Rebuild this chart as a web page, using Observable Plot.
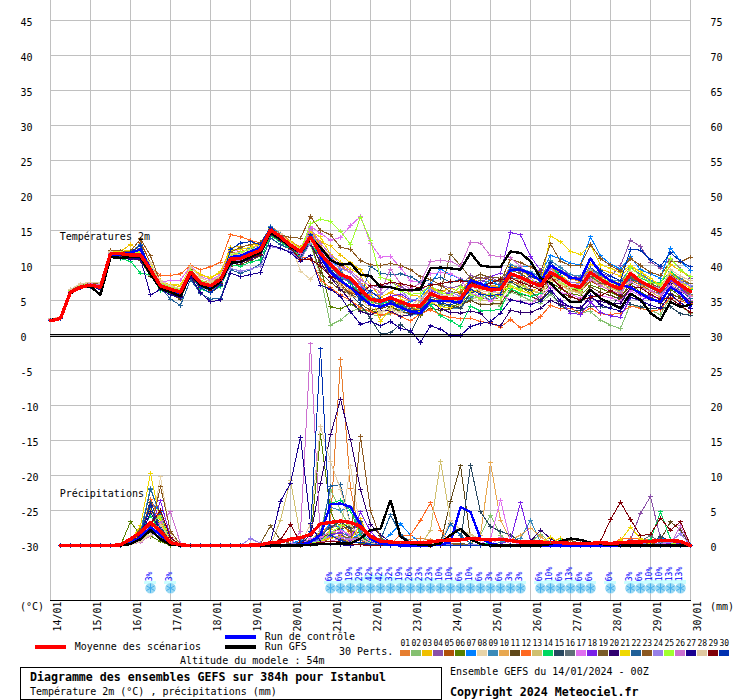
<!DOCTYPE html>
<html>
<head>
<meta charset="utf-8">
<script src="https://cdn.jsdelivr.net/npm/d3@7"></script>
<script src="https://cdn.jsdelivr.net/npm/@observablehq/plot@0.6"></script>
<style>
html,body{margin:0;padding:0;background:#fff}
#page{position:relative;width:740px;height:700px;overflow:hidden;font-family:"DejaVu Sans Mono",monospace;font-size:10px;color:#000}
#chart{position:absolute;left:0;top:0}
.t{position:absolute;white-space:pre;line-height:12px}
.b{font-weight:bold;font-size:11.6px}
.s{position:absolute}
</style>
</head>
<body>
<div id="page"><div id="chart"></div></div>
<script>
const memberColors=["#e67e30","#85c070","#f0c000","#8a50a8","#b05008","#588000","#0080ff","#e8d4a8","#3a8ab8","#e8a850","#604818","#ff6820","#d0c070","#00d860","#284860","#607078","#e070f0","#7a20e8","#7a5c28","#300070","#f0d800","#206098","#8b5820","#9880e8","#a0ff30","#cc70d0","#1a0090","#e0c8a0","#800008","#0030b0"];
const memberLabels=["01","02","03","04","05","06","07","08","09","10","11","12","13","14","15","16","17","18","19","20","21","22","23","24","25","26","27","28","29","30"];
const dayLabels=["14/01","15/01","16/01","17/01","18/01","19/01","20/01","21/01","22/01","23/01","24/01","25/01","26/01","27/01","28/01","29/01","30/01"];

// Temperatures 2m, one value every 6 h
const t01=[2.3,2.6,6.4,7.2,7.5,7.3,11.9,11.8,11.7,11.9, 10.0,7.6,7.0,6.6,9.5,7.9,7.5,8.5,11.8,12.0,12.4,13.0, 15.6,14.6,13.5,12.6,15.1,12.8,11.2,9.9,9.0,7.5, 6.2,5.5,6.1,5.6,4.9,5.0,6.9,6.4,6.0,6.3, 8.2,7.5,7.0,7.4,9.9,9.5,8.6,8.0,9.6,9.0,8.1,7.7, 9.6,8.4,7.9,7.4,9.8,8.6,7.9,7.0,9.1,8.2,7.4];
const t02=[2.2,2.5,6.0,6.8,7.0,6.8,11.4,11.3,11.0,10.8, 8.6,6.6,6.0,5.6,8.6,6.9,6.5,7.5,10.3,10.4,10.9,11.5, 14.6,13.8,12.5,11.4,13.0,8.6,1.5,2.2,3.4,3.9, 3.0,2.8,3.1,4.4,3.2,3.4,4.6,4.2,3.9,4.6, 5.2,5.6,4.9,4.2,6.2,5.7,5.0,4.6,5.9,4.4,3.4,3.3, 3.4,2.2,1.5,1.0,4.5,3.9,3.6,3.0,5.4,4.2,3.2];
const t03=[2.4,2.6,6.5,7.1,7.4,7.2,12.0,12.0,13.0,12.2, 10.2,7.9,7.2,7.0,9.8,8.7,8.2,9.0,12.6,12.7,12.9,13.1, 15.3,14.4,13.4,12.5,15.0,13.4,12.8,11.5,10.4,9.4, 7.2,5.5,6.1,7.3,5.8,5.6,6.7,6.2,6.8,6.1, 8.3,7.4,7.1,7.0,9.9,9.2,8.4,7.8,9.5,8.6,7.6,7.5, 10.2,9.5,9.0,8.5,9.8,9.1,7.8,7.5,10.1,9.3,8.2];
const t04=[2.2,2.4,6.1,6.9,7.1,6.9,11.6,11.5,11.4,11.2, 8.8,6.9,6.4,5.9,8.9,7.3,6.7,7.6,10.4,10.6,11.2,11.8, 14.9,14.1,12.7,11.7,13.6,11.0,9.2,8.3,7.5,5.6, 7.2,6.8,7.6,7.0,6.3,6.5,7.4,7.2,6.8,7.1, 8.6,8.1,8.4,7.5,9.7,9.1,8.9,8.5,9.9,9.3,8.7,8.2, 9.2,8.9,8.4,10.0,13.6,12.7,10.5,9.6,10.9,9.5,8.2];
const t05=[2.3,2.5,6.2,7.0,7.2,7.0,11.7,11.8,11.4,13.3, 10.4,7.2,6.6,6.1,9.2,7.6,7.0,8.2,11.2,11.3,11.8,12.5, 15.2,14.3,13.2,12.2,14.4,12.0,9.3,7.3,6.1,5.6, 4.7,5.1,4.6,4.4,3.7,3.8,5.2,4.9,5.2,5.0, 6.6,6.2,5.6,5.8,7.8,7.3,6.6,6.1,8.3,7.6,6.7,6.3, 7.8,7.0,6.8,6.4,7.9,7.2,6.5,5.9,7.6,6.9,5.7];
const t06=[2.2,2.4,6.1,6.9,7.1,6.8,11.5,11.5,11.2,11.3, 9.0,6.9,6.2,5.9,8.8,7.0,6.5,7.6,10.5,10.7,11.3,11.9, 14.8,13.8,12.6,11.8,14.5,9.9,4.1,3.8,4.5,3.6, 3.6,3.2,4.1,3.6,3.7,2.8,5.0,4.5,4.1,4.6, 6.0,5.3,5.2,5.4,7.6,6.9,6.1,5.5,7.6,6.7,6.0,5.7, 7.2,6.7,6.2,5.5,7.4,6.2,5.4,4.9,6.6,5.6,4.9];
const t07=[2.2,2.5,6.2,7.0,7.3,7.0,11.8,11.6,11.5,11.9, 9.6,7.3,6.8,6.3,9.3,7.8,7.3,8.2,11.4,11.7,12.1,12.4, 15.4,14.3,13.2,12.1,14.7,12.5,11.0,9.4,7.4,7.0, 5.8,4.6,5.1,4.2,4.9,5.5,7.3,9.5,8.7,8.1, 7.4,7.0,8.0,7.0,9.1,9.8,9.9,8.9,11.4,11.0,10.3,10.1, 14.1,11.4,10.2,9.5,11.3,9.4,8.8,8.2,12.5,10.6,9.3];
const t08=[2.4,2.6,6.6,7.4,7.6,7.6,12.0,11.9,11.6,11.8, 10.4,7.8,7.2,6.6,9.7,8.3,7.6,8.6,11.7,11.9,12.4,12.9, 15.1,14.6,13.1,9.2,8.0,9.8,9.0,7.8,7.0,5.1, 3.9,3.2,3.8,2.8,3.5,3.7,4.8,4.6,4.3,4.0, 5.9,4.6,4.4,4.4,6.9,6.4,5.9,5.5,7.9,7.3,6.2,6.4, 8.2,7.3,6.5,6.0,8.0,7.6,6.5,5.7,7.9,6.9,6.6];
const t09=[2.2,2.5,6.1,6.8,7.1,6.8,11.6,11.5,11.8,13.0, 9.0,6.8,6.1,5.3,8.9,7.1,6.3,7.5,11.9,12.5,12.5,12.8, 15.6,14.5,13.2,12.3,14.4,12.3,9.9,8.2,7.9,6.8, 5.5,5.2,4.5,3.7,2.9,3.1,4.4,4.3,3.8,3.9, 5.5,5.9,5.1,6.1,10.1,9.6,9.1,8.3,10.7,9.7,8.7,8.5, 9.6,8.6,8.0,7.7,9.6,8.8,7.9,6.9,8.9,8.2,7.0];
const t10=[2.3,2.6,6.3,7.1,7.3,7.1,11.7,11.6,11.7,11.4, 9.5,7.4,6.8,6.5,9.2,7.7,7.3,8.2,11.5,11.6,12.0,12.4, 15.0,14.2,13.0,12.2,14.9,12.6,9.6,7.6,6.4,5.5, 4.5,4.0,5.0,3.9,3.4,3.3,5.6,4.9,4.7,5.6, 6.4,6.1,5.8,6.0,8.2,7.7,6.4,6.0,8.0,7.2,6.5,6.2, 8.4,7.4,6.9,6.1,8.2,7.1,6.3,5.4,7.8,6.4,5.7];
const t11=[2.2,2.4,6.0,6.8,7.0,6.7,11.3,11.2,11.0,10.7, 8.5,6.7,5.9,5.2,8.5,6.7,6.1,7.1,9.9,10.2,10.7,11.4, 14.4,13.5,12.4,11.6,13.4,9.0,7.6,6.5,5.8,4.5, 3.6,3.9,4.2,3.3,3.2,3.0,3.9,3.6,3.8,4.3, 5.0,4.4,4.5,4.6,6.4,5.9,5.6,5.0,6.9,6.2,5.5,5.1, 6.9,6.2,5.7,5.2,6.7,5.9,5.4,4.6,6.0,5.3,4.5];
const t12=[2.3,2.5,6.3,7.0,7.3,7.1,11.9,11.8,11.5,11.5, 9.7,8.6,8.6,8.8,10.0,9.4,9.8,10.5,14.4,14.1,13.6,13.2, 14.7,13.8,12.7,11.2,11.0,8.0,6.8,5.8,5.0,4.0, 3.4,2.9,3.3,2.7,2.1,3.1,3.7,3.0,2.6,2.4, 2.5,2.0,1.8,1.2,2.3,1.1,1.7,2.7,4.3,3.8,3.9,3.2, 3.9,3.1,3.0,3.2,4.2,3.9,3.5,3.7,5.5,4.9,4.6];
const t13=[2.3,2.6,6.4,7.2,7.5,7.3,11.6,11.5,11.8,11.5, 9.6,7.5,7.0,6.5,9.3,7.8,7.4,8.3,10.9,11.4,12.1,12.4, 15.2,14.2,13.0,12.0,13.7,11.2,10.4,9.1,8.0,6.5, 5.3,4.2,4.4,3.9,3.7,4.9,5.9,5.2,5.4,4.3, 6.9,5.1,4.9,5.0,7.5,7.2,6.5,6.1,8.1,7.6,6.4,6.0, 8.7,7.6,6.7,6.3,8.6,7.8,6.9,6.2,8.3,7.4,6.9];
const t14=[2.2,2.5,6.1,6.9,7.1,6.8,11.2,11.0,10.6,8.9, 8.7,6.4,6.0,5.9,8.7,6.6,6.2,7.0,10.1,9.9,10.5,10.8, 14.2,13.4,12.3,11.4,13.0,11.4,10.2,8.6,7.4,5.9, 4.8,4.5,4.9,4.0,4.3,4.4,4.4,2.8,2.1,1.3, 4.2,3.5,3.6,3.7,6.7,6.0,5.6,6.0,10.0,8.5,7.3,7.4, 8.5,7.5,7.2,7.1,8.8,8.2,7.6,7.6,9.2,7.9,6.6];
const t15=[2.2,2.5,6.0,6.8,7.0,6.7,11.4,11.3,11.2,10.9, 8.8,6.9,6.3,5.7,9.0,7.2,6.6,7.7,11.3,11.1,11.8,12.1, 15.2,14.0,12.8,12.0,13.9,11.6,9.1,7.0,5.9,4.4, 2.4,0.2,0.4,1.6,0.4,3.2,5.0,4.9,4.2,3.9, 6.0,6.7,6.9,6.8,7.7,6.8,6.5,4.9,6.3,4.3,3.4,3.6, 4.2,4.1,3.9,5.9,4.5,4.1,3.8,4.0,4.1,3.1,2.9];
const t16=[2.3,2.5,6.2,7.0,7.2,6.9,11.5,11.4,11.3,11.0, 9.2,7.0,6.4,5.9,8.9,7.3,6.7,7.7,10.7,10.8,11.4,12.0, 14.8,14.0,12.8,12.0,14.2,11.9,10.0,8.9,7.9,6.0, 5.0,4.3,4.6,4.2,3.8,3.9,5.5,5.1,5.5,5.2, 7.4,7.9,7.6,7.8,8.3,8.0,7.0,7.0,8.7,8.0,7.1,6.9, 8.9,7.9,7.0,6.5,8.5,7.4,6.8,6.0,8.0,7.0,5.9];
const t17=[2.2,2.5,6.3,7.0,7.3,7.1,11.8,11.7,11.6,11.7, 9.8,7.6,7.9,7.9,9.9,8.5,7.9,8.7,12.0,12.3,12.6,12.9, 15.0,14.3,13.2,12.3,15.6,14.6,13.6,14.0,15.7,17.0, 13.2,11.2,11.3,9.7,7.8,7.6,8.8,9.0,8.8,8.1, 6.0,5.6,4.9,5.8,5.1,4.9,4.5,5.6,6.9,6.1,5.9,5.3, 6.5,5.7,5.4,4.9,6.4,5.7,5.1,4.8,6.9,5.9,5.0];
const t18=[2.3,2.5,6.2,7.0,7.2,7.0,11.8,11.7,11.6,11.6, 9.5,7.3,6.6,6.4,9.1,7.5,7.1,8.2,11.0,11.3,12.0,12.5, 15.1,14.1,13.0,12.0,14.2,11.8,10.0,8.6,7.6,6.8, 5.1,4.7,5.6,5.9,5.1,5.0,6.4,5.9,6.0,5.0, 6.9,7.5,8.4,8.9,14.7,14.4,11.3,9.3,6.5,5.0,3.2,3.0, 4.8,3.3,2.8,2.6,5.4,5.0,5.7,5.2,7.9,6.8,5.3];
const t19=[2.2,2.5,6.2,6.9,7.1,6.9,11.5,11.4,11.5,11.6, 9.3,7.2,6.6,6.1,9.0,7.4,6.9,7.9,10.8,10.9,11.5,12.1, 14.9,14.0,12.9,11.9,13.9,11.2,8.4,7.1,5.9,5.2, 4.3,4.0,4.8,4.5,3.9,4.3,5.7,6.4,11.6,10.0, 8.2,8.7,8.3,8.2,9.3,8.9,7.9,7.5,8.9,8.2,7.0,6.6, 8.4,7.5,7.1,6.7,8.3,7.5,7.4,6.8,8.6,7.9,7.4];
const t20=[2.2,2.4,6.0,6.8,7.0,6.7,11.3,11.2,11.0,10.8, 8.9,6.8,6.2,5.6,8.6,6.8,6.1,7.2,10.2,10.4,10.9,11.5, 14.5,13.6,12.5,11.6,13.1,10.5,8.3,6.6,5.0,3.4, 3.0,3.6,3.5,2.7,3.0,3.4,4.9,3.8,3.3,3.2, 3.5,3.2,1.7,1.4,3.6,3.3,3.3,3.9,5.0,4.4,4.1,4.0, 5.3,4.9,4.5,4.6,6.8,6.0,5.2,4.8,7.4,6.1,4.7];
const t21=[2.4,2.6,6.4,7.2,7.4,7.2,12.1,12.0,12.2,12.0, 10.0,7.5,7.3,7.2,9.8,8.6,8.3,9.1,12.2,12.3,12.6,13.0, 15.3,14.2,13.3,12.4,14.8,14.1,11.6,10.5,9.5,8.7, 5.8,2.0,3.8,5.2,4.3,3.5,4.8,4.1,4.0,6.0, 6.3,6.6,6.7,6.4,7.0,6.4,6.0,7.2,14.2,13.4,12.0,11.6, 13.0,10.1,9.6,9.0,10.0,9.1,8.2,7.1,8.9,7.8,6.7];
const t22=[2.2,2.4,6.0,6.8,7.0,6.7,11.4,11.4,11.9,12.4, 9.0,6.8,5.2,4.3,8.0,6.0,5.2,5.3,9.4,8.9,9.4,10.2, 13.9,13.0,12.3,11.0,13.8,12.0,10.0,9.0,7.7,5.2, 9.9,8.9,8.7,8.8,8.4,7.6,8.0,8.3,7.6,8.0, 7.7,7.3,7.4,7.3,8.5,8.6,7.4,7.0,8.6,8.0,6.9,7.1, 9.6,8.8,7.9,7.0,8.0,7.5,7.0,6.2,7.2,6.4,5.3];
const t23=[2.3,2.6,6.4,7.2,7.5,7.3,12.2,12.1,12.0,13.8, 11.4,7.5,6.8,6.4,9.4,7.8,7.2,8.4,11.9,12.6,13.0,13.3, 15.4,14.4,14.0,13.9,17.0,15.0,14.4,12.6,12.3,10.7, 10.1,10.0,10.3,10.0,9.4,8.4,8.0,7.2,6.3,6.0, 7.9,8.3,8.0,7.7,10.9,10.4,9.8,9.0,13.1,10.6,10.0,10.0, 13.0,11.0,10.0,9.2,11.0,10.0,9.0,8.6,10.6,10.5,11.2];
const t24=[2.3,2.5,6.2,7.1,7.3,7.1,11.7,11.6,11.5,11.7, 9.6,7.4,6.7,6.3,9.0,7.6,7.0,7.9,9.6,9.2,9.5,9.9, 12.7,12.4,12.0,10.8,13.2,12.4,10.5,9.6,9.0,7.3, 6.0,5.8,7.0,6.4,5.2,5.0,6.6,5.9,6.2,5.6, 7.3,6.9,6.3,6.4,8.6,8.5,7.8,7.3,9.1,8.3,7.6,7.4, 9.4,8.2,7.5,6.6,8.8,7.8,7.2,6.7,8.5,7.7,7.1];
const t25=[2.3,2.5,6.4,7.1,7.4,7.2,11.9,11.8,11.9,11.8, 9.9,7.5,6.9,6.5,9.3,7.9,7.2,8.2,11.5,11.9,12.3,12.6, 15.0,14.1,13.1,12.1,16.0,16.6,16.3,14.9,13.0,16.9, 13.6,8.3,7.9,6.4,5.9,6.0,7.2,6.1,5.8,7.0, 5.9,5.3,6.0,5.4,7.2,6.6,7.8,7.0,8.9,7.6,6.8,6.5, 9.2,8.2,7.7,7.0,9.7,8.5,7.6,7.2,11.0,9.4,8.4];
const t26=[2.3,2.6,6.3,7.0,7.4,7.2,11.6,11.6,11.3,11.2, 9.0,6.9,6.5,6.0,8.8,7.2,6.6,7.7,10.6,10.8,11.3,11.9, 14.7,13.9,12.7,11.7,15.3,13.2,11.5,10.2,9.2,8.0, 7.0,6.2,9.5,7.4,6.7,7.5,10.6,10.7,10.6,9.9, 13.3,13.2,11.4,11.3,11.1,9.9,8.3,6.9,9.6,8.2,7.3,7.2, 8.0,7.1,6.4,6.0,7.7,6.8,6.4,5.8,7.2,6.3,5.6];
const t27=[2.2,2.4,6.0,6.8,7.0,6.6,11.2,11.1,10.9,11.0, 5.8,6.6,5.8,5.4,8.4,6.1,4.8,5.1,8.9,8.4,8.7,9.0, 12.9,12.5,11.8,10.6,11.4,7.2,6.6,5.6,3.4,1.6, 2.0,1.4,2.0,1.0,0.7,-1.0,1.4,0.9,0.0,0.0, 1.3,1.7,2.0,3.2,5.1,4.8,4.4,4.9,6.5,4.9,4.1,3.8, 5.7,4.4,3.9,3.5,5.5,5.0,4.3,3.9,5.9,4.6,3.9];
const t28=[2.4,2.6,6.6,7.3,7.6,7.5,11.9,11.8,11.4,11.6, 10.1,7.7,7.1,6.7,9.9,8.2,7.7,8.5,11.3,11.6,12.2,12.7, 15.2,14.4,13.2,12.3,13.5,11.5,9.4,7.0,5.6,5.3, 4.6,3.4,3.9,3.3,4.2,5.4,6.2,5.7,5.7,5.4, 7.0,6.4,6.2,6.2,8.1,8.0,7.2,6.7,8.4,7.8,6.9,6.8, 8.8,7.9,7.4,6.8,9.1,8.0,7.1,6.6,9.4,8.5,7.8];
const t29=[2.2,2.5,6.1,6.9,7.1,6.9,11.5,11.4,11.2,11.2, 9.1,7.0,6.3,5.8,8.8,7.0,6.5,7.4,10.6,10.6,11.1,11.6, 14.7,13.7,12.5,10.8,10.9,9.9,8.4,7.9,6.9,6.0, 7.1,7.2,7.6,7.4,7.1,6.8,7.2,7.4,7.7,7.8, 7.6,7.0,7.5,8.0,8.2,7.6,7.1,6.5,8.4,6.9,5.6,5.0, 5.5,5.7,6.4,5.6,7.0,6.8,5.9,5.2,5.3,4.3,3.3];
const t30=[2.2,2.4,6.0,6.9,7.0,6.8,11.6,11.6,11.9,12.9, 9.5,7.0,6.4,6.0,8.9,6.8,6.1,7.3,12.3,13.2,13.4,13.0, 15.5,14.0,12.9,12.1,14.4,12.0,9.3,8.0,6.9,5.0, 6.4,5.2,5.0,4.1,3.6,3.6,5.2,4.6,4.4,4.8, 6.6,5.9,5.7,5.9,9.7,9.5,8.5,7.8,10.4,9.0,8.2,7.9, 10.9,9.3,8.5,7.8,12.3,12.2,10.8,9.9,11.8,10.6,9.8];
const tControl=[2.2,2.5,6.2,6.9,7.2,6.9,11.6,11.6,11.8,12.3, 9.5,7.0,6.4,6.0,9.0,7.3,6.8,7.7,11.2,11.4,12.0,12.6, 15.2,14.0,12.8,12.0,14.1,11.3,9.0,7.8,6.8,5.6, 4.4,4.1,4.6,4.0,3.4,3.2,4.9,4.9,4.9,4.7, 7.9,7.4,6.8,6.6,9.4,9.4,8.9,7.8,10.0,9.2,8.3,8.0, 11.0,8.9,7.8,7.2,6.9,6.0,5.2,4.8,6.9,6.0,4.2];
const tGfs=[2.2,2.5,6.0,6.9,7.0,5.8,11.2,11.1,11.2,11.2, 8.7,6.7,6.2,5.6,8.9,7.2,6.6,7.7,10.4,10.5,11.2,11.9, 14.7,13.8,12.7,11.9,13.9,12.6,10.8,10.1,10.3,8.7, 8.5,6.9,6.9,6.5,6.5,6.6,9.6,9.7,9.6,9.4, 11.8,10.0,9.8,9.8,12.0,11.8,10.6,8.2,7.5,6.0,4.8,4.8, 6.5,5.3,4.6,3.9,6.0,5.1,3.2,2.2,4.8,4.1,4.4];
const tMean=[2.1,2.45,6.2,6.9,7.2,6.9,11.7,11.7,11.5,11.5, 9.4,7.1,6.6,6.2,9.1,7.5,7.1,8.0,10.9,11.0,11.6,12.2, 15.1,14.1,12.9,12.0,14.1,11.7,10.1,8.7,8.2,6.6, 5.2,4.9,5.4,4.8,4.3,4.2,6.0,5.4,5.3,5.3, 7.2,6.9,6.5,6.6,8.8,8.3,7.6,7.1,9.0,8.2,7.2,6.9, 9.0,8.0,7.2,6.7,8.9,7.7,7.0,6.3,8.3,7.2,6.3];

// Precipitation (mm), one value every 6 h
const p01=[0,0,0,0,0,0,0,0, .3,1.2,2.2,1.5,.2,0, 0,0,0,0,0,0,0,0, 0,0,.2,.3,.6,1.5,3.2,26.6,8.2,1,.3, .2,.1,.4,.9,1,.8,.2,.1,0,0,0,0,0,0,0,0,0,0,0,0,0,0,0,.2,.3,.5,.4,.3,.2,.2,.1,0];
const p02=[0,0,0,0,0,0,0,0, .5,1.8,2.8,1.6,.1,0, 0,0,0,0,0,0,0,0, 0,0,.1,.3,.8,2,8,5,2.5,.8,.2, .1,.1,0,0,0,0,.1,.1,.2,.2,1.5,4.3,1.5,.2,.1,.5,1.6,.4,.3,.2,0,0,0,0,0,0,0,0,.2,.4,.2,0];
const p03=[0,0,0,0,0,0,0,0, .6,2.4,5,3,.3,0, 0,0,0,0,0,0,0,0, 0,0,0,.2,.4,.9,2.3,3.5,1.5,3.8,.6, 0,.2,.1,0,0,0,0,0,.1,.1,0,0,0,0,0,.2,.4,.5,1,.3,0,0,0,0,.5,.4,.2,.1,.1,.1,0,0];
const p04=[0,0,0,0,0,0,0,0, .2,1.1,1.9,3.2,.6,0, 0,0,0,0,0,0,0,0, 0,.1,.3,.4,.5,1.4,2.8,2.6,1.2,2.1,.5, 0,0,0,.2,0,0,0,.1,0,0,0,0,0,0,0,0,0,0,0,0,0,0,0,.1,.3,.8,4.6,7,1,.3,.2,0];
const p05=[0,0,0,0,0,0,0,0, .3,1,2.6,3.8,.9,.1, 0,0,0,0,0,0,0,0, 0,.1,.2,.2,.7,1.7,1.5,3,2,1.8,.4, .3,.2,.1,.1,0,0,0,0,0,0,0,.1,.1,.1,.2,0,0,0,0,0,0,0,0,.2,.4,.3,.2,.2,.4,.2,.1,0];
const p06=[0,0,0,0,0,0,0,0, 3.4,1.5,1.3,.6,0,0, 0,0,0,0,0,0,0,0, 0,0,.1,.1,.5,15.8,5,1.5,.5,.3,.2, .2,.1,0,0,0,0,0,.1,.2,0,0,0,0,.1,0,0,.2,.1,0,0,0,0,0,0,.2,.1,.6,.9,.4,.2,.1,0];
const p07=[0,0,0,0,0,0,0,0, .3,1.5,6.2,4.8,.5,0, 0,0,0,0,0,0,0,0, 0,0,.2,.8,.6,.7,3.4,2.5,1,1.6,.5, .4,1.6,3.1,1.5,.4,0,.1,3.1,1.4,.3,0,0,0,0,0,0,0,0,0,0,0,0,0,0,0,0,.3,.4,1.2,.5,.2,0];
const p08=[0,0,0,0,0,0,0,0, .2,.6,1.8,9.8,1.6,.1, 0,0,0,0,0,0,0,0, 0,0,0,.2,.3,.8,1.2,2,11.4,2,.3, 0,0,0,0,0,0,.2,.3,.2,.1,0,0,0,0,.1,.2,.1,0,0,0,0,0,0,0,.1,.3,.2,0,0,0,.3,0];
const p09=[0,0,0,0,0,0,0,0, .4,2,8.2,4,.4,0, 0,0,0,0,0,0,0,0, 0,.1,.1,.4,.6,1.3,5.5,5,5.5,2,.6, .2,.1,0,0,0,0,0,0,0,0,0,0,.5,.8,1,3.6,.5,.1,0,0,0,0,0,0,0,0,0,0,.2,.1,0,0];
const p10=[0,0,0,0,0,0,0,0, .3,.9,3,4.5,1,.1, 0,0,0,0,0,0,0,0, 0,0,.1,.1,.4,1,2,1.6,.9,1.1,.3, 0,0,0,0,0,0,.4,.2,0,.3,1.5,11.8,3.6,.8,1.5,2.5,1.3,.2,0,0,0,0,0,0,0,0,0,.1,0,0,0,0];
const p11=[0,0,0,0,0,0,0,0, .2,.8,2.5,3.5,.8,0, 0,0,0,0,0,0,0,0, 0,.1,.2,.3,.6,.9,1.8,2.4,2.7,2.5,.8, .1,0,0,0,0,0,.3,6.3,11.4,1,.2,0,0,0,0,0,0,0,0,0,0,0,0,0,0,0,.1,.2,.8,3.4,2.2,0];
const p12=[0,0,0,0,0,0,0,0, .4,1.4,6.6,3.5,.5,0, 0,0,0,0,0,0,0,0, 0,0,.1,.2,.2,.5,1.2,.9,.8,.7,.2, .3,.2,1.5,1.5,3.6,6.1,2.2,.3,0,0,0,0,0,0,.1,.2,0,0,0,0,0,0,0,.2,.9,1,.9,.8,.7,.5,.2,0];
const p13=[0,0,0,0,0,0,0,0, .1,.7,2,3.3,.5,0, 0,0,0,0,0,0,0,0, 0,3.6,9.3,1.2,.5,.7,1.3,1,.6,.9,.3, .1,0,0,0,0,2.2,12,3.6,2.2,1.6,.9,.2,0,0,0,0,0,0,0,0,0,0,0,0,0,0,.1,.2,.1,0,0,0];
const p14=[0,0,0,0,0,0,0,0, .5,2.1,4.2,2.1,.2,0, 0,0,0,0,0,0,0,0, 0,0,0,.1,.3,1,6,6.5,5,1.5,.4, 0,.1,0,0,0,0,0,0,0,.1,.2,.3,0,0,0,.2,.3,.5,.7,.2,0,0,0,0,0,0,0,.8,4.8,.9,.3,0];
const p15=[0,0,0,0,0,0,0,0, .2,1.4,6.2,2.7,.4,0, 0,0,0,0,0,0,0,0, 0,0,.1,.5,.8,1.4,2.6,3.4,2.4,3.4,.9, .5,.2,0,0,0,0,0,0,.3,11.5,4.8,2.7,2,1.5,.5,0,0,0,0,0,0,0,0,0,0,0,.1,.3,1.3,.6,.2,0];
const p16=[0,0,0,0,0,0,0,0, .3,1,2,1.5,.3,0, 0,0,0,0,0,0,0,0, 0,0,0,.2,.5,.8,1.6,1.9,1.2,.8,.3, .1,.1,0,0,0,0,0,.1,.1,.2,.2,0,0,0,.1,0,0,0,0,0,0,0,0,.1,.2,.4,.6,1.4,.5,.2,.1,0];
const p17=[0,0,0,0,0,0,0,0, .3,1.2,3,2.4,.4,0, 0,0,0,0,0,0,0,0, 0,0,.1,.2,1,1.2,1.9,2.2,1.5,2.8,.7, .2,0,0,0,0,0,0,0,0,0,.2,1,6.5,.6,.2,0,0,0,0,0,0,0,0,0,0,0,0,.1,.3,.2,.1,0];
const p18=[0,0,0,0,0,0,0,0, .4,1.3,2.5,6.4,1.2,0, 0,0,0,0,0,0,0,0, 0,0,.1,.3,.4,.9,1.5,1.8,.5,4.8,2, .4,.2,.1,0,0,0,0,0,0,0,0,0,.2,.8,6.1,.7,.2,0,0,0,0,0,0,0,0,0,0,.2,.1,.3,.2,0];
const p19=[0,0,0,0,0,0,0,0, .8,2.4,2.7,1.3,.2,0, 0,0,0,0,0,0,0,.3, 2.8,.8,.3,.1,.2,.4,1,1.4,1,1.2,.4, .1,0,0,.2,.3,0,0,.2,.3,.1,0,0,0,0,0,0,0,.1,.3,.5,.2,0,0,0,.2,.3,.2,.2,0,0,0,0];
const p20=[0,0,0,0,0,0,0,0, .2,1.1,5.7,1.7,.2,0, 0,0,0,0,0,0,0,0, 0,0,0,.2,1.5,8.9,15.8,20.9,15.1,8,3, 1.5,.5,.1,0,0,0,0,0,0,0,0,0,0,0,0,.6,2.2,1,.2,0,0,0,0,0,0,0,0,0,0,0,0,0];
const p21=[0,0,0,0,0,0,0,0, .7,2.8,10.3,3.4,.4,0, 0,0,0,0,0,0,0,0, 0,0,.1,.1,.3,.6,1,1.3,.8,3,.9, .3,.1,0,0,0,0,0,0,0,0,0,0,0,0,0,.1,.4,1.2,.3,0,0,0,0,0,.7,2.6,1,.3,.2,.1,0,0];
const p22=[0,0,0,0,0,0,0,0, .3,1.6,8,4.4,.5,0, 0,0,0,0,0,0,0,0, 0,0,.1,.2,.5,1,8.5,8.7,3,1,.4, .8,4.4,1.6,.5,.2,0,.5,3.2,1.5,.3,0,0,0,0,0,0,0,0,0,0,0,0,0,0,0,.2,.3,.1,0,0,0,0];
const p23=[0,0,0,0,0,0,0,0, .2,.9,2.2,8.4,2,.2, 0,0,0,0,0,0,0,0, 0,0,0,0,.1,.4,.6,1,.3,15.6,5, 1,.3,.1,0,0,0,.1,.2,.1,0,0,0,0,.2,.2,0,0,0,.4,.7,.3,0,0,.1,.2,.2,.2,.4,.1,.1,0,0];
const p24=[0,0,0,0,0,0,0,0, .2,.7,1.4,1.9,.3,0, 0,0,0,0,0,0,1,.3, .3,.1,.2,.3,.4,.8,1.3,1.2,.9,1.1,.2, .1,0,0,.1,0,0,.1,.1,0,.1,.1,0,0,.1,0,0,0,0,0,0,0,0,0,.1,.1,.2,.3,.4,.3,.5,1.7,0];
const p25=[0,0,0,0,0,0,0,0, .3,1.7,3.2,4.1,.4,0, 0,0,0,0,0,0,0,0, 0,0,0,.1,.3,.6,1.8,2.8,3.1,2.9,.8, .2,.1,0,0,0,0,0,0,0,0,.1,.2,0,0,0,.1,0,0,0,0,0,0,0,0,.2,.1,0,0,.1,.2,.5,0];
const p26=[0,0,0,0,0,0,0,0, .1,.5,1.4,3.2,4.8,.3, 0,0,0,0,0,0,0,0, 0,0,.1,2,28.8,.5,.6,1,.8,1,.3, .1,0,0,0,0,0,0,0,0,0,0,.1,1.2,.2,0,0,0,0,0,0,0,0,0,0,0,.1,.2,.1,.1,.2,2.8,0];
const p27=[0,0,0,0,0,0,0,0, .3,1,4.8,1.9,.2,0, 0,0,0,0,0,0,0,0, .5,6.3,8.9,15.5,3.2,.5,.2,.1,0,.2,.1, 0,0,0,0,0,0,0,0,0,0,0,0,0,0,0,0,0,0,0,0,0,0,0,0,0,0,0,0,0,0,0,0];
const p28=[0,0,0,0,0,0,0,0, .1,.6,1.5,2.9,.9,0, 0,0,0,0,0,0,0,0, 0,0,0,.2,3,17,12,8,3,1,.3, .1,0,0,0,.2,.3,.2,3.6,2.2,1.5,.8,.3,0,0,0,0,0,0,0,0,0,0,0,0,0,.1,.2,.1,0,0,0,0];
const p29=[0,0,0,0,0,0,0,0, .5,1.4,3.1,5,1.1,.1, 0,0,0,0,0,0,0,0, 0,.8,3,.4,.3,.4,.6,.5,.2,.1,0, 0,0,0,0,0,0,0,0,0,0,0,0,0,0,0,0,0,0,0,0,.2,.3,.6,3.7,6.2,3.7,1.4,1.6,3.9,2.2,3.4,0];
const p30=[0,0,0,0,0,0,0,0, .4,1.8,5.6,2.3,.3,0, 0,0,0,0,0,0,0,0, 0,0,.1,.3,2,28.1,1.5,.7,.3,.5,.2, .1,0,0,0,0,.1,.1,0,0,0,0,0,.1,0,0,0,0,0,0,0,0,0,0,0,0,0,0,0,0,0,0,0];
const pControl=[0,0,0,0,0,0,0,0, .3,1.2,2.6,1.5,.2,0, 0,0,0,0,0,0,0,0, 0,0,0,.1,.5,1.5,5.9,6,5.5,3,.9, .3,.1,0,0,0,0,.1,.5,5.5,4.8,1,.3,0,0,0,0,0,0,0,0,0,0,0,0,0,0,0,0,0,0,0,0];
const pGfs=[0,0,0,0,0,0,0,0, .2,.9,2.2,.9,.1,0, 0,0,0,0,0,0,0,0, 0,0,0,0,.1,.2,.2,.3,.3,1,2.2, 2.4,6.5,1.3,.3,.1,0,.3,1.5,2.4,.9,.2,0,0,0,0,0,0,.2,.6,1,.8,.4,.2,.1,0,0,0,0,0,0,0,0];
const pMean=[0,0,0,0,0,0,0,.1, .9,1.9,3.3,2.0,.4,.1, 0,0,0,0,0,0,.05,.1, .4,.5,.9,1.1,1.6,3.1,3.3,3.5,3.3,2.7,1.3, .6,.5,.4,.4,.4,.5,.7,.8,.8,1,.9,.8,.9,.7,.5,.5,.5,.4,.4,.3,.3,.3,.4,.3,.4,.5,.5,.6,.7,.7,.6,0];

// Snow probability: forecast hour and percentage
const snowHours=[60,72,168,174,180,186,192,198,204,210,216,222,228,234,240,246,252,258,264,270,276,282,294,300,306,312,318,324,336,348,354,360,366,372,378];
const snowPct=[3,3,6,6,19,29,42,42,32,19,26,23,23,10,10,6,10,6,3,6,3,3,6,10,6,13,6,6,6,3,6,10,10,13,13];

const tempMembers=[t01,t02,t03,t04,t05,t06,t07,t08,t09,t10,t11,t12,t13,t14,t15,t16,t17,t18,t19,t20,t21,t22,t23,t24,t25,t26,t27,t28,t29,t30];
const precMembers=[p01,p02,p03,p04,p05,p06,p07,p08,p09,p10,p11,p12,p13,p14,p15,p16,p17,p18,p19,p20,p21,p22,p23,p24,p25,p26,p27,p28,p29,p30];

const indices=d3.range(65);
const precIndices=d3.range(1,65);
const hourOf=i=>i*6;
const PREC_ZERO=-30;
const gridY=[45,40,35,30,25,20,15,10,5,0,-5,-10,-15,-20,-25];
const labelY=[...gridY,-30];
const dayHours=dayLabels.map((d,i)=>i*24);
const crisp={shapeRendering:"crispEdges"};

function series(arr,idx,shift,color,width,withDots){
  const y=i=>arr[i]+shift;
  const marks=[Plot.line(idx,{x:hourOf,y,stroke:color,strokeWidth:width,strokeLinejoin:"miter",...crisp})];
  if(withDots) marks.push(Plot.dot(idx,{x:hourOf,y,symbol:"plus",r:1.5,stroke:color,strokeWidth:1,...crisp}));
  return marks;
}

const plot=Plot.plot({
  width:740,height:640,marginLeft:50,marginRight:50,marginTop:0,marginBottom:40,
  style:{fontFamily:"'DejaVu Sans Mono',monospace",fontSize:"10px",background:"#fff",color:"#000"},
  x:{domain:[0,384],axis:null},
  y:{domain:[-265/7,335/7],axis:null},
  marks:[
    Plot.ruleY(gridY,{stroke:"#c0c0c0",...crisp}),
    Plot.ruleX(dayHours,{stroke:"#c0c0c0",...crisp}),
    // snow band, flakes and percentages
    Plot.rect(snowHours,{x1:d=>d-3.6,x2:d=>d+3.6,y1:-35.6,y2:(d,i)=>-35.6+(2.5+.16*snowPct[i])/7,fill:"#ccffff",...crisp}),
    Plot.dot(snowHours,{x:d=>d,y:-36.1,r:5.3,fill:"#9ad8f2"}),
    Plot.dot(snowHours,{x:d=>d,y:-36.1,r:4.4,symbol:"asterisk",stroke:"#45b0ee",strokeWidth:1}),
    Plot.text(snowHours,{x:d=>d,y:-35.1,text:(d,i)=>snowPct[i]+"%",rotate:-90,textAnchor:"start",fill:"#0000ff",fontSize:8,dx:-1}),
    // temperatures
    ...tempMembers.flatMap((a,i)=>series(a,indices,0,memberColors[i],1,true)),
    ...series(tControl,indices,0,"#0000ff",2.4,false),
    ...series(tGfs,indices,0,"#000",2.4,false),
    ...series(tMean,indices,0,"#ff0000",3.4,false),
    // precipitation
    ...precMembers.flatMap((a,i)=>series(a,precIndices,PREC_ZERO,memberColors[i],1,true)),
    ...series(pControl,precIndices,PREC_ZERO,"#0000ff",2.4,false),
    ...series(pGfs,precIndices,PREC_ZERO,"#000",2.4,false),
    ...series(pMean,precIndices,PREC_ZERO,"#ff0000",3.4,false),
    // double zero line and base axis
    Plot.ruleY([0],{stroke:"#000",dy:-1,...crisp}),
    Plot.ruleY([0],{stroke:"#000",dy:1,...crisp}),
    Plot.frame({anchor:"bottom",stroke:"#000",...crisp}),
    Plot.text(["Températures 2m"],{x:5.5,y:14.1,text:d=>d,textAnchor:"start",fill:"#000"}),
    Plot.text(["Précipitations"],{x:5.5,y:-22.6,text:d=>d,textAnchor:"start",fill:"#000"}),
    // axes
    Plot.axisY(labelY,{anchor:"left",tickSize:0,tickPadding:30,textAnchor:"start",dy:2.5,label:null,tickFormat:d=>String(d),fontSize:10}),
    Plot.axisY(labelY,{anchor:"right",tickSize:0,tickPadding:20,textAnchor:"start",dy:2.5,label:null,tickFormat:d=>String(d-PREC_ZERO),fontSize:10}),
    Plot.axisX(dayHours,{anchor:"bottom",tickSize:0,tickRotate:-90,tickPadding:1,textAnchor:"start",lineAnchor:"middle",dx:7.5,dy:30,label:null,tickFormat:(d,i)=>dayLabels[i],fontSize:10})
  ]
});
const page=document.getElementById("page");
document.getElementById("chart").appendChild(plot);

function txt(s,x,yc,cls){const e=document.createElement("div");e.className="t"+(cls?" "+cls:"");e.textContent=s;e.style.left=x+"px";e.style.top=(yc-6)+"px";page.appendChild(e);return e}
function box(x,y,w,h,c){const e=document.createElement("div");e.className="s";e.style.cssText+=`left:${x}px;top:${y}px;width:${w}px;height:${h}px;background:${c}`;page.appendChild(e);return e}
txt("(°C)",20,607);
txt("(mm)",710,607);
box(35,645,31,4,"#ff0000");txt("Moyenne des scénarios",74.7,647);
box(225,635,31,4,"#0000ff");txt("Run de contrôle",264.7,637);
box(225,645,31,4,"#000");txt("Run GFS",264.7,647);
txt("30 Perts.",339,652);
txt("Altitude du modele : 54m",180,660.5);
memberLabels.forEach((l,i)=>{
  const e=txt(l,400.5+11*i,643.5);e.style.fontSize="8px";
  box(400+11*i,650,10,6,memberColors[i]);
});
const frame=document.createElement("div");frame.className="s";
frame.style.cssText+="left:20px;top:667px;width:420px;height:31px;border:1px solid #000;box-sizing:content-box";
page.appendChild(frame);
txt("Diagramme des ensembles GEFS sur 384h pour Istanbul",30,677,"b");
txt("Température 2m (°C) , précipitations (mm)",30,692);
txt("Ensemble GEFS du 14/01/2024 - 00Z",450,672);
txt("Copyright 2024 Meteociel.fr",450,692,"b");
</script>
</body>
</html>
